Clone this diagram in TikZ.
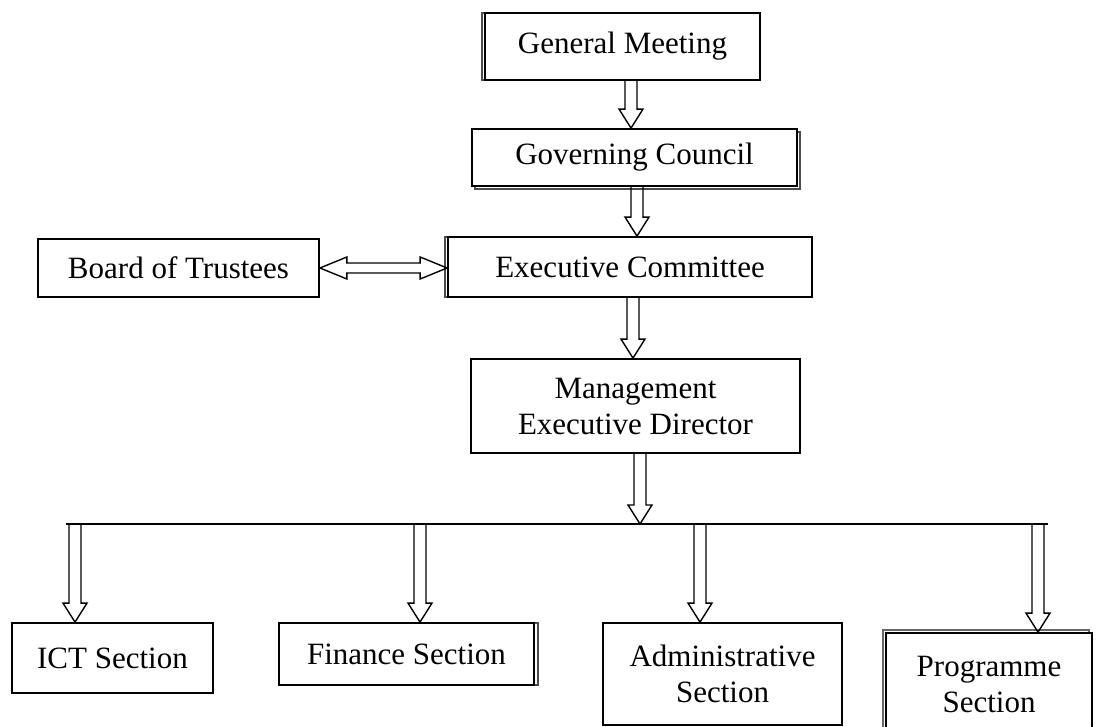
\documentclass[tikz,border=0pt]{standalone}
\usepackage{fontspec}
\setmainfont{Liberation Serif}
\usetikzlibrary{calc,shadows}

% полая стрелка вниз: #1 -- x стрелки, #2 -- откуда, #3 -- куда
\newcommand{\hollowdown}[3]{%
  \draw[hollow] let \p1=(#2), \p2=(#3) in
    ({#1pt-6pt},\y1) -- ({#1pt-6pt},\y2+19pt) -- ({#1pt-12pt},\y2+19pt) -- (#1pt,\y2)
    -- ({#1pt+12pt},\y2+19pt) -- ({#1pt+6pt},\y2+19pt) -- ({#1pt+6pt},\y1);}

\begin{document}
\begin{tikzpicture}[x=1pt,y=-1pt,
    orgbox/.style={draw, fill=white, line width=1.8pt, inner sep=0pt, align=center,
      font=\fontsize{31}{36}\selectfont},
    edge/.style={copy shadow={shadow xshift=#1, shadow yshift=0pt, opacity=1,
      draw=black!70, line width=1.4pt}},
    hollow/.style={draw, line width=1.4pt, line join=miter}]
\useasboundingbox (0,0) rectangle (1107,727);
\clip (0,0) rectangle (1107,727);
\node[orgbox, edge=-3pt, minimum width=275pt, minimum height=67pt] (gm) at (622.5,46.5) {General Meeting};
\node[orgbox, copy shadow={shadow xshift=3pt, shadow yshift=-3pt, draw=black!70},
  minimum width=325pt, minimum height=57pt] (gc) at (634.5,157.5) {Governing Council};
\node[orgbox, edge=-3pt, minimum width=364pt, minimum height=60pt] (ec) at (630,267) {Executive Committee};
\node[orgbox, minimum width=281pt, minimum height=58pt] (bot) at (178.5,268) {Board of Trustees};
\node[orgbox, minimum width=329pt, minimum height=94pt] (mgmt) at (635.5,406) {Management\\Executive Director};
% нижний ряд отделов
\node[orgbox, minimum width=201pt, minimum height=70pt] (ict) at (112.5,658) {ICT Section};
\node[orgbox, edge=4pt, minimum width=255pt, minimum height=62pt] (fin) at (406.5,654) {Finance Section};
\node[orgbox, minimum width=239pt, minimum height=102pt] (adm) at (722.5,674) {Administrative\\Section};
\node[orgbox, copy shadow={shadow xshift=-3pt, shadow yshift=3pt, draw=black!60},
  minimum width=206pt, minimum height=102pt] (prog) at (989,684) {Programme\\Section};

\hollowdown{631}{gm.south}{gc.north} % стрелки по вертикали
\hollowdown{637}{gc.south}{ec.north}
\hollowdown{633}{ec.south}{mgmt.north}
\draw[hollow] let \p1=(bot.east), \p2=(ec.west) in % двойная стрелка
  (\x1,\y1) -- (\x1+27pt,\y1+11pt) -- (\x1+27pt,\y1+5pt) -- (\x2-27pt,\y1+5pt)
  -- (\x2-27pt,\y1+11pt) -- (\x2,\y1) -- (\x2-27pt,\y1-11pt) -- (\x2-27pt,\y1-5pt)
  -- (\x1+27pt,\y1-5pt) -- (\x1+27pt,\y1-11pt) -- cycle;

\coordinate (busl) at (66,524); % общая горизонтальная линия
\coordinate (busr) at (1048,524);
\draw[line width=1.4pt] (busl) -- (busr);
\hollowdown{640}{mgmt.south}{busl}
\hollowdown{75}{busl}{ict.north}
\hollowdown{420}{busl}{fin.north}
\hollowdown{700}{busl}{adm.north}
\hollowdown{1038}{busl}{prog.north}
\end{tikzpicture}
\end{document}
